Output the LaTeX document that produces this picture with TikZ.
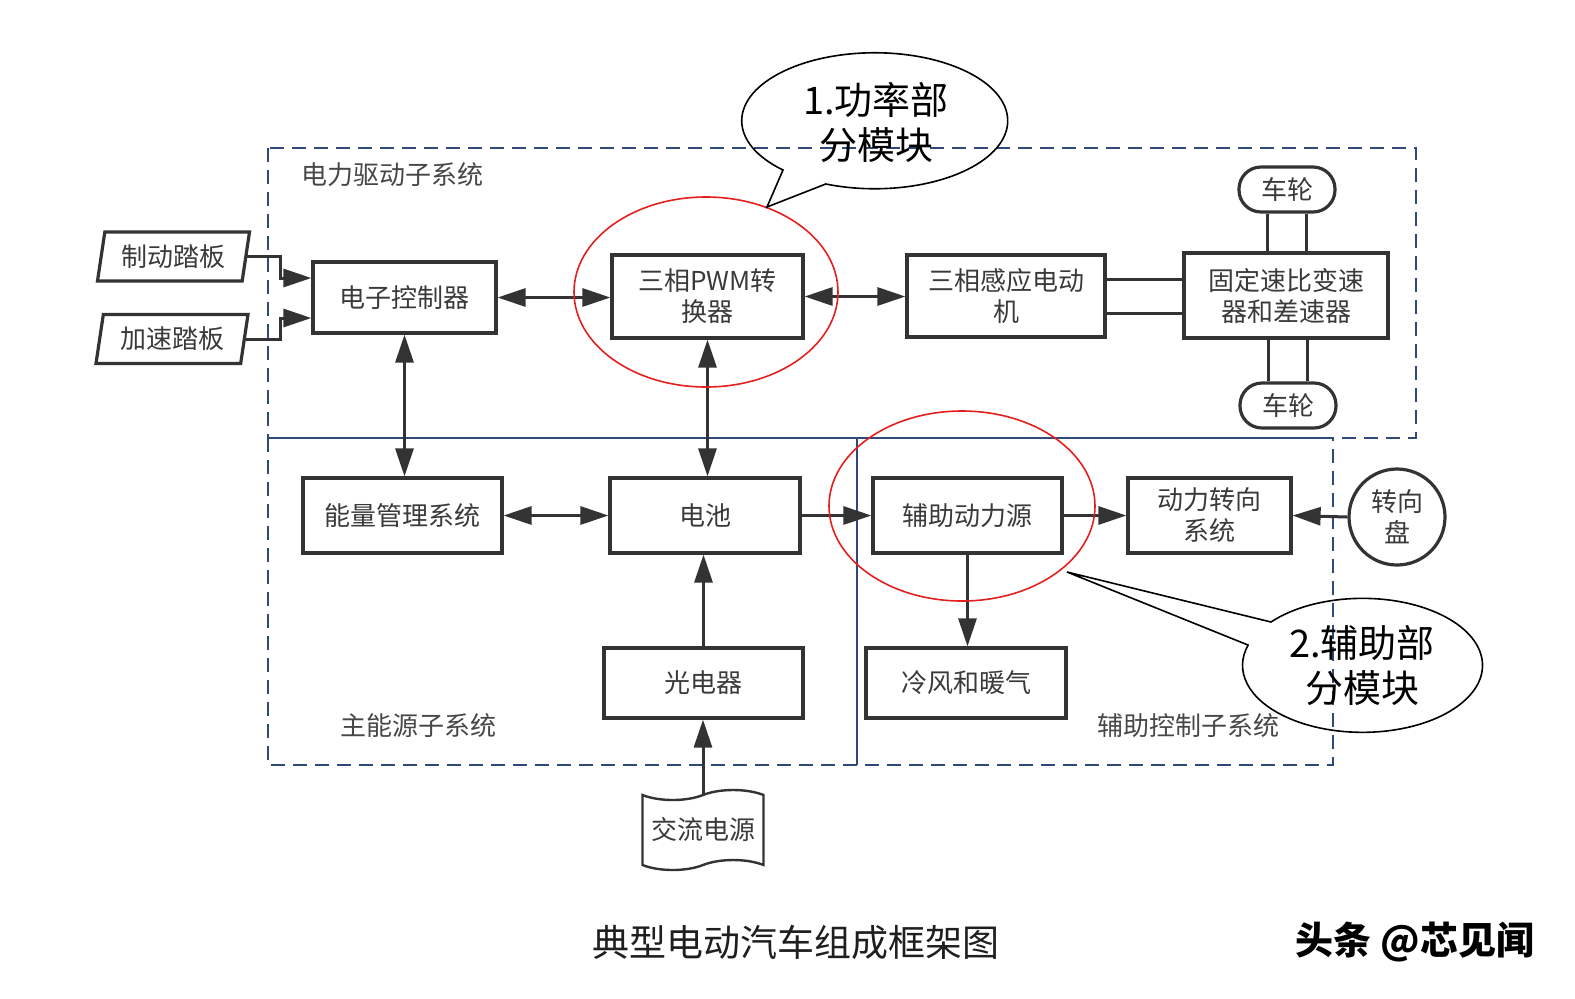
\documentclass[tikz,border=0pt]{standalone}
\usepackage{fontspec}
\setmainfont{Noto Sans CJK SC}
\usetikzlibrary{arrows.meta,shapes.geometric,shapes.symbols,calc}
\definecolor{boxc}{HTML}{333333}
\definecolor{txtc}{HTML}{3A3A3A}
\definecolor{navyc}{HTML}{2F4A78}
\definecolor{ringred}{HTML}{E3201F}
\begin{document}
\begin{tikzpicture}[x=0.5pt,y=-0.5pt,
  bigtri/.tip={Triangle[length=14pt,width=9pt]},
  box/.style={draw=boxc, line width=1.6pt, text=txtc, align=center, inner sep=0pt,
    font=\fontsize{13}{15.5}\selectfont},
  conn/.style={draw=boxc, line width=1.5pt},
  arr/.style={conn, -bigtri},
  darr/.style={conn, bigtri-bigtri},
  subsys/.style={draw=navyc, line width=0.8pt, dash pattern=on 7pt off 4pt},
  divider/.style={draw=navyc, line width=0.8pt},
  sublabel/.style={text=black!72, font=\fontsize{13}{15}\selectfont},
  ring/.style={draw=ringred, line width=0.8pt},
  callout/.style={draw=black, line width=0.8pt},
  callouttext/.style={align=center, text=black, font=\fontsize{19}{22.5}\selectfont},
  pedal/.style={box, trapezium, trapezium left angle=73, trapezium right angle=107,
    trapezium stretches body, minimum width=76pt, minimum height=24.5pt}
]
\useasboundingbox (0,0) rectangle (1575,998);

% subsystem frames
\draw[subsys] (268,148) rectangle (1416,438);
\draw[subsys] (268,438) rectangle (1333,765);
\draw[divider] (268,438) -- (1333,438);
\draw[divider] (857,438) -- (857,765);

\node[sublabel] (l1) at (392,175) {电力驱动子系统};
\node[sublabel] (l2) at (418,726) {主能源子系统};
\node[sublabel] (l3) at (1188,726) {辅助控制子系统};

% nodes
\node[pedal] (brake) at (173.5,256.5) {制动踏板};
\node[pedal] (accel) at (172,339) {加速踏板};
\node[box, minimum width=91.5pt, minimum height=35.5pt] (ctrl) at (404.5,297.5) {电子控制器};
\node[box, minimum width=95.5pt, minimum height=41.5pt] (pwm) at (707.5,296.5) {三相PWM转\\换器};
\node[box, minimum width=99pt, minimum height=41pt] (motor) at (1006,296) {三相感应电动\\机};
\node[box, minimum width=102pt, minimum height=42.5pt] (gear) at (1286,295.5) {固定速比变速\\器和差速器};
\node[box, rounded corners=11pt, minimum width=48pt, minimum height=22.5pt] (w1) at (1287,189.5) {车轮};
\node[box, rounded corners=11pt, minimum width=48pt, minimum height=22.5pt] (w2) at (1288,405.5) {车轮};
\node[box, minimum width=99.5pt, minimum height=37.5pt] (ems) at (402.5,515.5) {能量管理系统};
\node[box, minimum width=95pt, minimum height=37.5pt] (bat) at (705,515.5) {电池};
\node[box, minimum width=94.5pt, minimum height=37.5pt] (aux) at (967.5,515.5) {辅助动力源};
\node[box, minimum width=81.5pt, minimum height=37.5pt] (steer) at (1209.5,515.5) {动力转向\\系统};
\node[box, circle, minimum size=48pt] (sw) at (1397,517) {转向\\盘};
\node[box, minimum width=99.5pt, minimum height=35pt] (pv) at (703.5,683) {光电器};
\node[box, minimum width=100pt, minimum height=35pt] (hvac) at (966,683) {冷风和暖气};
\node[box, tape, line width=1.2pt, minimum width=60.5pt, minimum height=40pt] (ac) at (703,830) {交流电源};

% connectors
\coordinate (bk) at (280,278);
\draw[arr] (brake.east) -| (bk) -- (bk -| ctrl.west);
\coordinate (ak) at (280,318);
\draw[arr] (accel.east) -| (ak) -- (ak -| ctrl.west);
\draw[darr] (ctrl.east) -- (ctrl.east -| pwm.west);
\draw[darr] (pwm.east) -- (pwm.east -| motor.west);
\draw[darr] (ctrl.south) -- (ctrl.south |- ems.north);
\draw[darr] (pwm.south) -- (pwm.south |- bat.north);
\draw[darr] (ems.east) -- (bat.west);
\draw[arr] (bat.east) -- (aux.west);
\draw[arr] (aux.east) -- (steer.west);
\draw[arr] (sw.west) -- (steer.east);
\draw[arr] (aux.south) -- (aux.south |- hvac.north);
\draw[arr] (pv.north) -- (pv.north |- bat.south);
\draw[arr] (ac.north) -- (ac.north |- pv.south);
\draw[conn] ($(motor.east)+(0,-17)$) coordinate (m1) -- (m1 -| gear.west);
\draw[conn] ($(motor.east)+(0,17)$) coordinate (m2) -- (m2 -| gear.west);
\draw[conn] ($(w1.south)+(-19.5,0)$) coordinate (t1) -- (t1 |- gear.north);
\draw[conn] ($(w1.south)+(19.5,0)$) coordinate (t2) -- (t2 |- gear.north);
\draw[conn] ($(w2.north)+(-19.5,0)$) coordinate (t3) -- (t3 |- gear.south);
\draw[conn] ($(w2.north)+(19.5,0)$) coordinate (t4) -- (t4 |- gear.south);

% red rings
\draw[ring] (706,292) ellipse [x radius=132, y radius=95];
\draw[ring] (962,506) ellipse [x radius=133, y radius=95];

% callouts
\node[callouttext] (c1) at (876,122) {1.功率部\\分模块};
\draw[callout] (783,170) arc[start angle=133.6, end angle=471.6, x radius=133, y radius=68] -- (767,207) -- cycle;
\node[callouttext] (c2) at (1362,666) {2.辅助部\\分模块};
\draw[callout] (1271,622) arc[start angle=220.3, end angle=557.6, x radius=120, y radius=67] -- (1067,572) -- cycle;

% captions
\node[text=black!88, font=\fontsize{18.5}{20}\selectfont] (title) at (796,942) {典型电动汽车组成框架图};
\node[text=black, font=\bfseries\fontsize{19}{20}\selectfont] (wm) at (1415,942) {头条 @芯见闻};
\end{tikzpicture}
\end{document}
